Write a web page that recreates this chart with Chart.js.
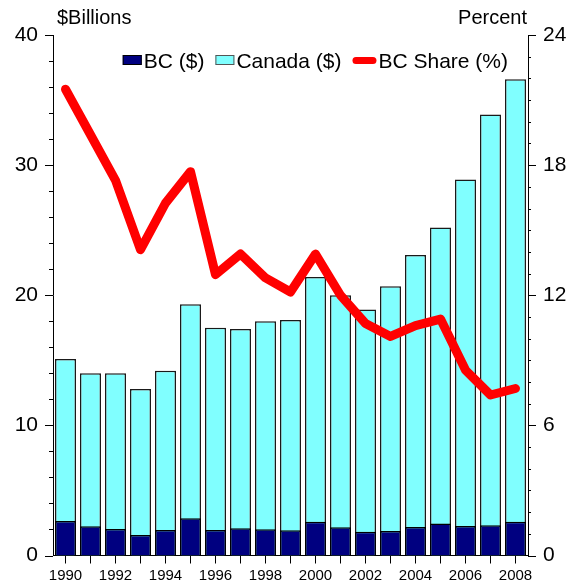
<!DOCTYPE html>
<html>
<head>
<meta charset="utf-8">
<script src="https://cdn.jsdelivr.net/npm/chart.js@4.4.1/dist/chart.umd.min.js"></script>
<style>
  body { margin: 0; background: #fff; }
</style>
</head>
<body>
<canvas id="myChart" width="576" height="585"></canvas>
<script>
// data
const years = ['1990','1991','1992','1993','1994','1995','1996','1997','1998','1999',
               '2000','2001','2002','2003','2004','2005','2006','2007','2008'];
const bcValues = [2.65, 2.25, 2.04, 1.58, 1.96, 2.86, 1.96, 2.09, 2.02, 1.94,
                  2.6, 2.17, 1.83, 1.88, 2.19, 2.45, 2.27, 2.32, 2.6];
const canadaValues = [15.1, 14.0, 14.0, 12.8, 14.2, 19.3, 17.5, 17.4, 18.0, 18.1,
                      21.4, 20.0, 18.9, 20.7, 23.1, 25.2, 28.9, 33.9, 36.6];
const shareValues = [21.5, 19.4, 17.3, 14.1, 16.25, 17.7, 12.95, 13.9, 12.8, 12.15,
                     13.9, 12.0, 10.7, 10.1, 10.6, 10.9, 8.55, 7.4, 7.7];
const leftTicks = [0, 10, 20, 30, 40];
const rightTicks = [0, 6, 12, 18, 24];

const fontFamily = '"Liberation Sans", Arial, sans-serif';
Chart.defaults.color = '#000';
Chart.defaults.font.family = fontFamily;

// draws the y tick marks (major + minor), the two unit titles and the legend
const extras = {
  id: 'extras',
  afterDraw(chart) {
    const ctx = chart.ctx;
    const area = chart.chartArea;
    const y = chart.scales.y;
    const y1 = chart.scales.y1;
    ctx.save();
    ctx.strokeStyle = '#000';
    ctx.lineWidth = 1;
    ctx.beginPath();
    for (let v = 0; v <= 40; v += 2) {
      let py = Math.round(y.getPixelForValue(v)) + 0.5;
      let len = leftTicks.includes(v) ? 8 : 4;
      ctx.moveTo(area.left - len, py);
      ctx.lineTo(area.left, py);
    }
    for (let v = 0; v <= 24; v += 1) {
      let py = Math.round(y1.getPixelForValue(v)) + 0.5;
      let len = rightTicks.includes(v) ? 8 : 3;
      ctx.moveTo(area.right, py);
      ctx.lineTo(area.right + len, py);
    }
    ctx.stroke();

    // unit titles
    ctx.fillStyle = '#000';
    ctx.font = '20px ' + fontFamily;
    ctx.textBaseline = 'alphabetic';
    ctx.textAlign = 'left';
    ctx.fillText('$Billions', area.left + 4, 24);
    ctx.textAlign = 'right';
    ctx.fillText('Percent', area.right - 1, 24);

    // legend, right aligned inside the plot
    ctx.font = '21px ' + fontFamily;
    ctx.textAlign = 'left';
    const items = chart.data.datasets.map((ds) => {
      let sw = ds.type === 'line' ? 24 : 19;
      return {ds: ds, sw: sw, tw: ctx.measureText(ds.label).width};
    });
    const gap = 2, itemGap = 11;
    let total = 0;
    items.forEach((it, i) => {
      total += it.sw + gap + it.tw + (i > 0 ? itemGap : 0);
    });
    let x = area.right - 20 - total;
    const cy = 60;
    items.forEach((it) => {
      if (it.ds.type === 'line') {
        ctx.strokeStyle = it.ds.borderColor;
        ctx.lineWidth = 7;
        ctx.lineCap = 'round';
        ctx.beginPath();
        ctx.moveTo(x + 3.5, cy + 0.5);
        ctx.lineTo(x + it.sw - 3.5, cy + 0.5);
        ctx.stroke();
      } else {
        ctx.fillStyle = it.ds.backgroundColor;
        ctx.fillRect(x, cy - 5, it.sw, 10);
        ctx.strokeStyle = it.ds.legendBorder;
        ctx.lineWidth = 1;
        ctx.strokeRect(x + 0.5, cy - 4.5, it.sw - 1, 9);
      }
      x += it.sw + gap;
      ctx.fillStyle = '#000';
      ctx.fillText(it.ds.label, x, cy + 8);
      x += it.tw + itemGap;
    });
    ctx.restore();
  }
};

const data = {
  labels: years,
  datasets: [{
    type: 'bar',
    label: 'BC ($)',
    data: bcValues,
    backgroundColor: '#000080',
    borderColor: '#000',
    legendBorder: '#000',
    borderWidth: 1.5,
    order: 1,
    yAxisID: 'y'
  }, {
    type: 'bar',
    label: 'Canada ($)',
    data: canadaValues,
    backgroundColor: '#80ffff',
    borderColor: '#1a1a1a',
    legendBorder: '#555',
    borderWidth: 1.5,
    order: 2,
    yAxisID: 'y'
  }, {
    type: 'line',
    label: 'BC Share (%)',
    data: shareValues,
    borderColor: '#ff0000',
    backgroundColor: '#ff0000',
    borderWidth: 9,
    borderJoinStyle: 'round',
    borderCapStyle: 'round',
    pointRadius: 0,
    tension: 0,
    order: 0,
    yAxisID: 'y1'
  }]
};

const config = {
  type: 'bar',
  data: data,
  options: {
    responsive: false,
    animation: false,
    layout: { padding: { left: 15, right: 10, top: 35, bottom: 0 } },
    datasets: {
      bar: { grouped: false, categoryPercentage: 1, barPercentage: 0.84 }
    },
    plugins: {
      legend: { display: false },
      tooltip: { enabled: false }
    },
    scales: {
      x: {
        offset: true,
        grid: { display: true, drawOnChartArea: false, offset: false, tickLength: 8, tickColor: '#000' },
        border: { display: true, color: '#000', width: 1 },
        ticks: {
          autoSkip: false,
          maxRotation: 0,
          padding: 3,
          font: { size: 15 },
          callback: function (val, i) {
            return i % 2 === 0 ? years[i] : '';
          }
        },
        afterFit: function (scale) { scale.height = 29.5; }
      },
      y: {
        position: 'left',
        min: 0,
        max: 40,
        grid: { display: false, drawTicks: false },
        border: { display: true, color: '#000', width: 1 },
        ticks: { stepSize: 10, padding: 15, font: { size: 21 } },
        afterFit: function (scale) { scale.width = 38; }
      },
      y1: {
        position: 'right',
        min: 0,
        max: 24,
        grid: { display: false, drawTicks: false },
        border: { display: true, color: '#000', width: 1 },
        ticks: { stepSize: 6, padding: 15, font: { size: 21 } },
        afterFit: function (scale) { scale.width = 38; }
      }
    }
  },
  plugins: [extras]
};

const myChart = new Chart(document.getElementById('myChart'), config);
</script>
</body>
</html>
